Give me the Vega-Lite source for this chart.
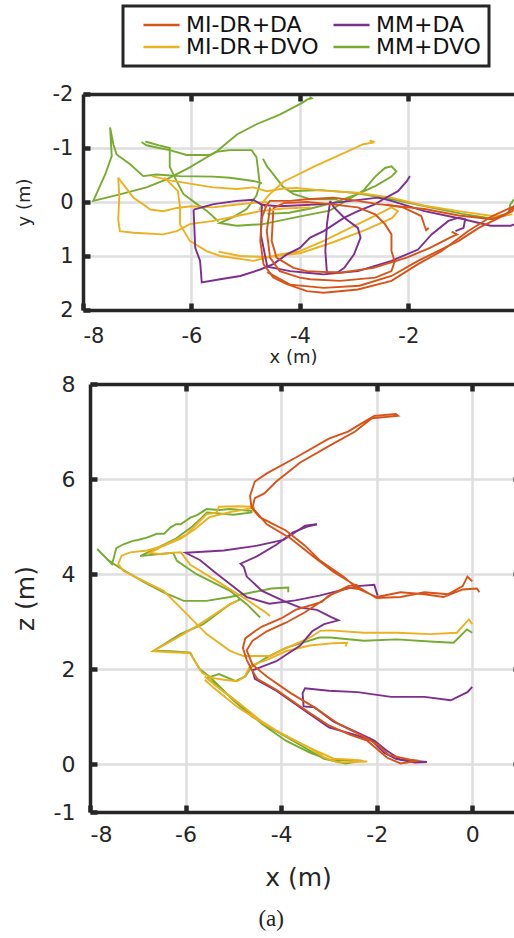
{
  "$schema": "https://vega.github.io/schema/vega-lite/v6.json",
  "padding": {"left": 13, "top": 4, "right": 0, "bottom": 3},
  "config": {
    "font": "DejaVu Sans",
    "view": {"stroke": null},
    "axis": {
      "grid": true, "gridColor": "#dedede", "gridWidth": 2.5,
      "domain": true, "domainColor": "#262626", "domainWidth": 3.5,
      "ticks": true, "tickColor": "#262626", "tickWidth": 4.5, "tickSize": -7,
      "labelColor": "#262626", "titleColor": "#262626",
      "labelFont": "DejaVu Sans", "titleFont": "DejaVu Sans", "titleFontWeight": "normal",
      "labelExpr": "'' + datum.value"
    },
    "legend": {
      "orient": "none", "legendX": 40, "legendY": -88, "columns": 2,
      "symbolType": "stroke", "symbolStrokeWidth": 2.5, "symbolSize": 1300,
      "labelFontSize": 22, "labelColor": "#111111", "labelFont": "DejaVu Sans",
      "strokeColor": "#262626", "strokeWidth": 3, "padding": 8,
      "columnPadding": 2, "rowPadding": 0, "clipHeight": 22, "labelOffset": 5,
      "symbolOffset": 11, "labelLimit": 300, "fillColor": "white"
    }
  },
  "title": {"text": "(a)", "orient": "bottom", "anchor": "middle", "font": "Liberation Serif", "fontSize": 23, "fontWeight": "normal", "color": "#222222", "offset": 18},
  "bounds": "flush",
  "center": true,
  "spacing": 74,
  "resolve": {"scale": {"x": "independent", "y": "independent"}},
  "datasets": {
    "xy": [
      {"s":"MM+DVO","g":"GA","x":-3.82,"y":-1.95},{"s":"MM+DVO","g":"GA","x":-3.78,"y":-1.92},{"s":"MM+DVO","g":"GA","x":-3.86,"y":-1.9},{"s":"MM+DVO","g":"GA","x":-3.95,"y":-1.84},{"s":"MM+DVO","g":"GA","x":-4.37,"y":-1.62},{"s":"MM+DVO","g":"GA","x":-4.8,"y":-1.44},{"s":"MM+DVO","g":"GA","x":-5.16,"y":-1.25},{"s":"MM+DVO","g":"GA","x":-5.53,"y":-0.94},{"s":"MM+DVO","g":"GA","x":-6.03,"y":-0.64},{"s":"MM+DVO","g":"GA","x":-6.46,"y":-0.42},{"s":"MM+DVO","g":"GA","x":-6.83,"y":-0.27},{"s":"MM+DVO","g":"GA","x":-7.32,"y":-0.14},{"s":"MM+DVO","g":"GA","x":-7.81,"y":-0.02},{"s":"MM+DVO","g":"GA","x":-7.59,"y":-0.51},{"s":"MM+DVO","g":"GA","x":-7.47,"y":-0.85},{"s":"MM+DVO","g":"GA","x":-7.5,"y":-1.38},{"s":"MM+DVO","g":"GA","x":-7.44,"y":-1.07},{"s":"MM+DVO","g":"GA","x":-7.38,"y":-0.88},{"s":"MM+DVO","g":"GA","x":-7.13,"y":-0.7},{"s":"MM+DVO","g":"GA","x":-6.89,"y":-0.48},{"s":"MM+DVO","g":"GA","x":-6.64,"y":-0.51},{"s":"MM+DVO","g":"GA","x":-6.21,"y":-0.48},{"s":"MM+DVO","g":"GA","x":-5.6,"y":-0.47},{"s":"MM+DVO","g":"GA","x":-5.29,"y":-0.45},{"s":"MM+DVO","g":"GA","x":-4.86,"y":-0.39},{"s":"MM+DVO","g":"GA","x":-4.7,"y":-0.35},
      {"s":"MM+DVO","g":"GB","x":-6.92,"y":-1.11},{"s":"MM+DVO","g":"GB","x":-6.83,"y":-1.05},{"s":"MM+DVO","g":"GB","x":-6.6,"y":-1.0},{"s":"MM+DVO","g":"GB","x":-6.4,"y":-0.96},{"s":"MM+DVO","g":"GB","x":-6.09,"y":-0.87},{"s":"MM+DVO","g":"GB","x":-5.66,"y":-0.87},{"s":"MM+DVO","g":"GB","x":-5.54,"y":-0.93},{"s":"MM+DVO","g":"GB","x":-5.29,"y":-0.96},{"s":"MM+DVO","g":"GB","x":-4.89,"y":-0.96},{"s":"MM+DVO","g":"GB","x":-4.8,"y":-0.83},{"s":"MM+DVO","g":"GB","x":-4.77,"y":-0.59},{"s":"MM+DVO","g":"GB","x":-4.74,"y":-0.34},{"s":"MM+DVO","g":"GB","x":-4.8,"y":-0.12},{"s":"MM+DVO","g":"GB","x":-4.98,"y":0.13},{"s":"MM+DVO","g":"GB","x":-5.23,"y":0.28},{"s":"MM+DVO","g":"GB","x":-5.48,"y":0.39},{"s":"MM+DVO","g":"GB","x":-5.17,"y":0.44},{"s":"MM+DVO","g":"GB","x":-4.68,"y":0.41},{"s":"MM+DVO","g":"GB","x":-4.06,"y":0.28},{"s":"MM+DVO","g":"GB","x":-3.45,"y":0.16},{"s":"MM+DVO","g":"GB","x":-3.08,"y":-0.06},{"s":"MM+DVO","g":"GB","x":-2.83,"y":-0.21},{"s":"MM+DVO","g":"GB","x":-2.61,"y":-0.47},{"s":"MM+DVO","g":"GB","x":-2.43,"y":-0.63},{"s":"MM+DVO","g":"GB","x":-2.31,"y":-0.66},{"s":"MM+DVO","g":"GB","x":-2.22,"y":-0.57},{"s":"MM+DVO","g":"GB","x":-2.31,"y":-0.47},{"s":"MM+DVO","g":"GB","x":-2.6,"y":-0.3},{"s":"MM+DVO","g":"GB","x":-3.0,"y":-0.12},{"s":"MM+DVO","g":"GB","x":-3.4,"y":0.02},{"s":"MM+DVO","g":"GB","x":-3.8,"y":0.12},{"s":"MM+DVO","g":"GB","x":-4.2,"y":0.2},{"s":"MM+DVO","g":"GB","x":-4.6,"y":0.22},
      {"s":"MM+DVO","g":"GC","x":-6.85,"y":-1.12},{"s":"MM+DVO","g":"GC","x":-6.6,"y":-1.05},{"s":"MM+DVO","g":"GC","x":-6.4,"y":-1.0},{"s":"MM+DVO","g":"GC","x":-6.4,"y":-0.65},{"s":"MM+DVO","g":"GC","x":-6.28,"y":-0.4},{"s":"MM+DVO","g":"GC","x":-6.15,"y":-0.15},{"s":"MM+DVO","g":"GC","x":-5.91,"y":0.03},{"s":"MM+DVO","g":"GC","x":-5.72,"y":0.16},{"s":"MM+DVO","g":"GC","x":-5.5,"y":0.36},
      {"s":"MM+DVO","g":"GD","x":-4.68,"y":-0.8},{"s":"MM+DVO","g":"GD","x":-4.6,"y":-0.65},{"s":"MM+DVO","g":"GD","x":-4.55,"y":-0.59},{"s":"MM+DVO","g":"GD","x":-4.31,"y":-0.28},{"s":"MM+DVO","g":"GD","x":-4.12,"y":-0.15},{"s":"MM+DVO","g":"GD","x":-3.8,"y":-0.05},{"s":"MM+DVO","g":"GD","x":-3.3,"y":-0.05},
      {"s":"MM+DVO","g":"GE","x":-4.2,"y":-0.2},{"s":"MM+DVO","g":"GE","x":-3.6,"y":-0.22},{"s":"MM+DVO","g":"GE","x":-3.0,"y":-0.17},{"s":"MM+DVO","g":"GE","x":-2.3,"y":-0.05},{"s":"MM+DVO","g":"GE","x":-1.6,"y":0.1},{"s":"MM+DVO","g":"GE","x":-1.0,"y":0.22},{"s":"MM+DVO","g":"GE","x":-0.5,"y":0.3},{"s":"MM+DVO","g":"GE","x":-0.15,"y":0.24},{"s":"MM+DVO","g":"GE","x":-0.12,"y":0.05},{"s":"MM+DVO","g":"GE","x":-0.05,"y":-0.05},
      {"s":"MI-DR+DVO","g":"YA","x":-2.62,"y":-1.11},{"s":"MI-DR+DVO","g":"YA","x":-2.71,"y":-1.14},{"s":"MI-DR+DVO","g":"YA","x":-2.66,"y":-1.1},{"s":"MI-DR+DVO","g":"YA","x":-2.83,"y":-1.07},{"s":"MI-DR+DVO","g":"YA","x":-3.14,"y":-0.93},{"s":"MI-DR+DVO","g":"YA","x":-3.75,"y":-0.65},{"s":"MI-DR+DVO","g":"YA","x":-4.31,"y":-0.37},{"s":"MI-DR+DVO","g":"YA","x":-4.55,"y":-0.15},{"s":"MI-DR+DVO","g":"YA","x":-4.68,"y":0.0},{"s":"MI-DR+DVO","g":"YA","x":-4.75,"y":0.15},
      {"s":"MI-DR+DVO","g":"YB","x":-7.35,"y":-0.45},{"s":"MI-DR+DVO","g":"YB","x":-7.26,"y":-0.33},{"s":"MI-DR+DVO","g":"YB","x":-7.07,"y":-0.08},{"s":"MI-DR+DVO","g":"YB","x":-6.89,"y":0.04},{"s":"MI-DR+DVO","g":"YB","x":-6.76,"y":0.14},{"s":"MI-DR+DVO","g":"YB","x":-6.52,"y":0.17},{"s":"MI-DR+DVO","g":"YB","x":-6.27,"y":0.11},{"s":"MI-DR+DVO","g":"YB","x":-6.0,"y":0.08},{"s":"MI-DR+DVO","g":"YB","x":-5.6,"y":0.1},{"s":"MI-DR+DVO","g":"YB","x":-5.2,"y":0.05},{"s":"MI-DR+DVO","g":"YB","x":-4.9,"y":0.02},{"s":"MI-DR+DVO","g":"YB","x":-4.6,"y":0.0},
      {"s":"MI-DR+DVO","g":"YC","x":-7.35,"y":-0.45},{"s":"MI-DR+DVO","g":"YC","x":-7.33,"y":-0.1},{"s":"MI-DR+DVO","g":"YC","x":-7.35,"y":0.32},{"s":"MI-DR+DVO","g":"YC","x":-7.32,"y":0.54},{"s":"MI-DR+DVO","g":"YC","x":-7.07,"y":0.57},{"s":"MI-DR+DVO","g":"YC","x":-6.52,"y":0.6},{"s":"MI-DR+DVO","g":"YC","x":-6.27,"y":0.54},{"s":"MI-DR+DVO","g":"YC","x":-6.03,"y":0.41},{"s":"MI-DR+DVO","g":"YC","x":-5.6,"y":0.35},{"s":"MI-DR+DVO","g":"YC","x":-5.16,"y":0.26},{"s":"MI-DR+DVO","g":"YC","x":-4.73,"y":0.17},{"s":"MI-DR+DVO","g":"YC","x":-4.3,"y":0.12},{"s":"MI-DR+DVO","g":"YC","x":-3.8,"y":0.1},
      {"s":"MI-DR+DVO","g":"YD","x":-6.73,"y":-0.48},{"s":"MI-DR+DVO","g":"YD","x":-6.4,"y":-0.4},{"s":"MI-DR+DVO","g":"YD","x":-6.03,"y":-0.34},{"s":"MI-DR+DVO","g":"YD","x":-5.6,"y":-0.27},{"s":"MI-DR+DVO","g":"YD","x":-5.16,"y":-0.24},{"s":"MI-DR+DVO","g":"YD","x":-4.86,"y":-0.27},{"s":"MI-DR+DVO","g":"YD","x":-4.61,"y":-0.2},{"s":"MI-DR+DVO","g":"YD","x":-4.3,"y":-0.25},{"s":"MI-DR+DVO","g":"YD","x":-4.06,"y":-0.26},{"s":"MI-DR+DVO","g":"YD","x":-3.56,"y":-0.21},{"s":"MI-DR+DVO","g":"YD","x":-2.93,"y":-0.17},{"s":"MI-DR+DVO","g":"YD","x":-2.31,"y":-0.08},{"s":"MI-DR+DVO","g":"YD","x":-1.7,"y":0.07},{"s":"MI-DR+DVO","g":"YD","x":-1.07,"y":0.17},{"s":"MI-DR+DVO","g":"YD","x":-0.45,"y":0.26},{"s":"MI-DR+DVO","g":"YD","x":-0.08,"y":0.23},
      {"s":"MI-DR+DVO","g":"YE","x":-6.5,"y":-0.45},{"s":"MI-DR+DVO","g":"YE","x":-6.25,"y":-0.2},{"s":"MI-DR+DVO","g":"YE","x":-6.21,"y":0.1},{"s":"MI-DR+DVO","g":"YE","x":-6.21,"y":0.41},{"s":"MI-DR+DVO","g":"YE","x":-6.03,"y":0.72},{"s":"MI-DR+DVO","g":"YE","x":-5.72,"y":0.91},{"s":"MI-DR+DVO","g":"YE","x":-5.47,"y":1.0},{"s":"MI-DR+DVO","g":"YE","x":-4.86,"y":1.09},{"s":"MI-DR+DVO","g":"YE","x":-4.37,"y":0.97},{"s":"MI-DR+DVO","g":"YE","x":-4.0,"y":0.91},{"s":"MI-DR+DVO","g":"YE","x":-3.56,"y":0.72},{"s":"MI-DR+DVO","g":"YE","x":-2.93,"y":0.41},{"s":"MI-DR+DVO","g":"YE","x":-2.56,"y":0.23},{"s":"MI-DR+DVO","g":"YE","x":-2.31,"y":0.1},{"s":"MI-DR+DVO","g":"YE","x":-2.19,"y":0.17},{"s":"MI-DR+DVO","g":"YE","x":-2.3,"y":0.3},{"s":"MI-DR+DVO","g":"YE","x":-2.8,"y":0.52},{"s":"MI-DR+DVO","g":"YE","x":-3.4,"y":0.75},{"s":"MI-DR+DVO","g":"YE","x":-4.0,"y":0.95},{"s":"MI-DR+DVO","g":"YE","x":-4.6,"y":1.02},{"s":"MI-DR+DVO","g":"YE","x":-5.1,"y":1.0},{"s":"MI-DR+DVO","g":"YE","x":-5.5,"y":0.92},
      {"s":"MM+DA","g":"PA","x":-5.96,"y":0.14},{"s":"MM+DA","g":"PA","x":-5.93,"y":0.85},{"s":"MM+DA","g":"PA","x":-5.84,"y":1.09},{"s":"MM+DA","g":"PA","x":-5.81,"y":1.49},{"s":"MM+DA","g":"PA","x":-5.47,"y":1.43},{"s":"MM+DA","g":"PA","x":-5.1,"y":1.37},{"s":"MM+DA","g":"PA","x":-4.73,"y":1.25},{"s":"MM+DA","g":"PA","x":-4.49,"y":1.15},{"s":"MM+DA","g":"PA","x":-4.24,"y":0.97},{"s":"MM+DA","g":"PA","x":-4.0,"y":0.85},{"s":"MM+DA","g":"PA","x":-3.81,"y":0.66},{"s":"MM+DA","g":"PA","x":-3.56,"y":0.54},{"s":"MM+DA","g":"PA","x":-3.18,"y":0.29},{"s":"MM+DA","g":"PA","x":-2.93,"y":0.17},{"s":"MM+DA","g":"PA","x":-2.61,"y":0.04},{"s":"MM+DA","g":"PA","x":-2.43,"y":-0.07},{"s":"MM+DA","g":"PA","x":-2.19,"y":-0.2},{"s":"MM+DA","g":"PA","x":-2.03,"y":-0.38},{"s":"MM+DA","g":"PA","x":-1.97,"y":-0.48},
      {"s":"MM+DA","g":"PB","x":-5.96,"y":0.14},{"s":"MM+DA","g":"PB","x":-5.59,"y":0.04},{"s":"MM+DA","g":"PB","x":-5.16,"y":-0.02},{"s":"MM+DA","g":"PB","x":-4.86,"y":-0.04},{"s":"MM+DA","g":"PB","x":-4.7,"y":0.05},{"s":"MM+DA","g":"PB","x":-4.4,"y":0.08},{"s":"MM+DA","g":"PB","x":-4.18,"y":0.07},{"s":"MM+DA","g":"PB","x":-3.56,"y":0.04},{"s":"MM+DA","g":"PB","x":-3.06,"y":-0.02},{"s":"MM+DA","g":"PB","x":-2.56,"y":-0.08},{"s":"MM+DA","g":"PB","x":-2.31,"y":-0.02},{"s":"MM+DA","g":"PB","x":-1.7,"y":0.17},{"s":"MM+DA","g":"PB","x":-1.07,"y":0.3},{"s":"MM+DA","g":"PB","x":-0.73,"y":0.38},{"s":"MM+DA","g":"PB","x":-0.48,"y":0.44},{"s":"MM+DA","g":"PB","x":-0.11,"y":0.44},{"s":"MM+DA","g":"PB","x":0.0,"y":0.4},
      {"s":"MM+DA","g":"PC","x":-3.44,"y":-0.02},{"s":"MM+DA","g":"PC","x":-3.5,"y":0.41},{"s":"MM+DA","g":"PC","x":-3.53,"y":0.91},{"s":"MM+DA","g":"PC","x":-3.5,"y":1.31},{"s":"MM+DA","g":"PC","x":-3.3,"y":1.3},{"s":"MM+DA","g":"PC","x":-3.18,"y":1.22},{"s":"MM+DA","g":"PC","x":-3.0,"y":0.97},{"s":"MM+DA","g":"PC","x":-2.88,"y":0.66},{"s":"MM+DA","g":"PC","x":-2.93,"y":0.48},{"s":"MM+DA","g":"PC","x":-3.18,"y":0.29},{"s":"MM+DA","g":"PC","x":-3.37,"y":0.1},{"s":"MM+DA","g":"PC","x":-3.44,"y":-0.02},
      {"s":"MM+DA","g":"PD","x":-4.7,"y":0.05},{"s":"MM+DA","g":"PD","x":-4.72,"y":0.6},{"s":"MM+DA","g":"PD","x":-4.6,"y":1.2},{"s":"MM+DA","g":"PD","x":-4.18,"y":1.28},{"s":"MM+DA","g":"PD","x":-3.87,"y":1.31},{"s":"MM+DA","g":"PD","x":-3.56,"y":1.34},{"s":"MM+DA","g":"PD","x":-2.93,"y":1.28},{"s":"MM+DA","g":"PD","x":-2.31,"y":1.09},{"s":"MM+DA","g":"PD","x":-1.82,"y":0.88},{"s":"MM+DA","g":"PD","x":-1.57,"y":0.6},{"s":"MM+DA","g":"PD","x":-1.26,"y":0.35},{"s":"MM+DA","g":"PD","x":-1.07,"y":0.29},{"s":"MM+DA","g":"PD","x":-0.95,"y":0.32},{"s":"MM+DA","g":"PD","x":-0.98,"y":0.48},{"s":"MM+DA","g":"PD","x":-1.13,"y":0.54},
      {"s":"MI-DR+DA","g":"RA","x":-4.61,"y":0.05},{"s":"MI-DR+DA","g":"RA","x":-4.7,"y":0.29},{"s":"MI-DR+DA","g":"RA","x":-4.73,"y":0.72},{"s":"MI-DR+DA","g":"RA","x":-4.67,"y":1.15},{"s":"MI-DR+DA","g":"RA","x":-4.49,"y":1.4},{"s":"MI-DR+DA","g":"RA","x":-4.24,"y":1.52},{"s":"MI-DR+DA","g":"RA","x":-3.87,"y":1.65},{"s":"MI-DR+DA","g":"RA","x":-3.56,"y":1.68},{"s":"MI-DR+DA","g":"RA","x":-2.93,"y":1.62},{"s":"MI-DR+DA","g":"RA","x":-2.31,"y":1.46},{"s":"MI-DR+DA","g":"RA","x":-1.82,"y":1.15},{"s":"MI-DR+DA","g":"RA","x":-1.39,"y":0.91},{"s":"MI-DR+DA","g":"RA","x":-0.9,"y":0.54},{"s":"MI-DR+DA","g":"RA","x":-0.45,"y":0.26},{"s":"MI-DR+DA","g":"RA","x":-0.03,"y":0.07},
      {"s":"MI-DR+DA","g":"RB","x":-0.03,"y":0.07},{"s":"MI-DR+DA","g":"RB","x":-0.08,"y":0.17},{"s":"MI-DR+DA","g":"RB","x":-0.45,"y":0.32},{"s":"MI-DR+DA","g":"RB","x":-1.07,"y":0.25},{"s":"MI-DR+DA","g":"RB","x":-1.7,"y":0.13},{"s":"MI-DR+DA","g":"RB","x":-2.56,"y":0.04},{"s":"MI-DR+DA","g":"RB","x":-2.93,"y":-0.02},{"s":"MI-DR+DA","g":"RB","x":-3.38,"y":-0.08},{"s":"MI-DR+DA","g":"RB","x":-3.87,"y":-0.05},{"s":"MI-DR+DA","g":"RB","x":-4.18,"y":-0.02},{"s":"MI-DR+DA","g":"RB","x":-4.55,"y":-0.02},{"s":"MI-DR+DA","g":"RB","x":-4.65,"y":0.1},
      {"s":"MI-DR+DA","g":"RC","x":-4.55,"y":0.1},{"s":"MI-DR+DA","g":"RC","x":-4.61,"y":0.54},{"s":"MI-DR+DA","g":"RC","x":-4.55,"y":1.03},{"s":"MI-DR+DA","g":"RC","x":-4.37,"y":1.28},{"s":"MI-DR+DA","g":"RC","x":-4.0,"y":1.4},{"s":"MI-DR+DA","g":"RC","x":-3.81,"y":1.43},{"s":"MI-DR+DA","g":"RC","x":-3.26,"y":1.46},{"s":"MI-DR+DA","g":"RC","x":-2.61,"y":1.4},{"s":"MI-DR+DA","g":"RC","x":-2.31,"y":1.28},{"s":"MI-DR+DA","g":"RC","x":-2.25,"y":1.1},{"s":"MI-DR+DA","g":"RC","x":-2.31,"y":0.91},{"s":"MI-DR+DA","g":"RC","x":-2.31,"y":0.6},{"s":"MI-DR+DA","g":"RC","x":-2.43,"y":0.41},{"s":"MI-DR+DA","g":"RC","x":-2.61,"y":0.23},{"s":"MI-DR+DA","g":"RC","x":-2.93,"y":0.1},{"s":"MI-DR+DA","g":"RC","x":-3.44,"y":0.04},{"s":"MI-DR+DA","g":"RC","x":-3.87,"y":0.0},{"s":"MI-DR+DA","g":"RC","x":-4.3,"y":0.02},{"s":"MI-DR+DA","g":"RC","x":-4.5,"y":0.12},
      {"s":"MI-DR+DA","g":"RD","x":-4.49,"y":0.16},{"s":"MI-DR+DA","g":"RD","x":-4.52,"y":0.72},{"s":"MI-DR+DA","g":"RD","x":-4.43,"y":1.03},{"s":"MI-DR+DA","g":"RD","x":-4.12,"y":1.22},{"s":"MI-DR+DA","g":"RD","x":-3.87,"y":1.28},{"s":"MI-DR+DA","g":"RD","x":-3.26,"y":1.31},{"s":"MI-DR+DA","g":"RD","x":-2.64,"y":1.22},{"s":"MI-DR+DA","g":"RD","x":-2.03,"y":1.03},{"s":"MI-DR+DA","g":"RD","x":-1.6,"y":0.85},{"s":"MI-DR+DA","g":"RD","x":-1.23,"y":0.66},{"s":"MI-DR+DA","g":"RD","x":-1.1,"y":0.6},{"s":"MI-DR+DA","g":"RD","x":-1.2,"y":0.55},
      {"s":"MI-DR+DA","g":"RE","x":-2.4,"y":0.05},{"s":"MI-DR+DA","g":"RE","x":-2.1,"y":0.1},{"s":"MI-DR+DA","g":"RE","x":-1.88,"y":0.2},{"s":"MI-DR+DA","g":"RE","x":-1.76,"y":0.26},{"s":"MI-DR+DA","g":"RE","x":-1.7,"y":0.44},{"s":"MI-DR+DA","g":"RE","x":-1.67,"y":0.52},{"s":"MI-DR+DA","g":"RE","x":-1.62,"y":0.48},
      {"s":"MI-DR+DA","g":"RF","x":-4.6,"y":1.3},{"s":"MI-DR+DA","g":"RF","x":-4.18,"y":1.53},{"s":"MI-DR+DA","g":"RF","x":-3.56,"y":1.59},{"s":"MI-DR+DA","g":"RF","x":-2.9,"y":1.55},{"s":"MI-DR+DA","g":"RF","x":-2.31,"y":1.37},{"s":"MI-DR+DA","g":"RF","x":-1.82,"y":1.09},{"s":"MI-DR+DA","g":"RF","x":-1.07,"y":0.72},{"s":"MI-DR+DA","g":"RF","x":-0.7,"y":0.48},{"s":"MI-DR+DA","g":"RF","x":-0.2,"y":0.23},{"s":"MI-DR+DA","g":"RF","x":-0.03,"y":0.07}
    ],
    "xz": [
      {"s":"MM+DVO","g":"GZa","x":-4.6,"z":5.33},{"s":"MM+DVO","g":"GZa","x":-5.07,"z":5.37},{"s":"MM+DVO","g":"GZa","x":-5.3,"z":5.35},{"s":"MM+DVO","g":"GZa","x":-5.56,"z":5.37},{"s":"MM+DVO","g":"GZa","x":-5.75,"z":5.25},{"s":"MM+DVO","g":"GZa","x":-5.9,"z":5.19},{"s":"MM+DVO","g":"GZa","x":-6.1,"z":5.05},{"s":"MM+DVO","g":"GZa","x":-6.2,"z":5.05},{"s":"MM+DVO","g":"GZa","x":-6.32,"z":4.98},{"s":"MM+DVO","g":"GZa","x":-6.45,"z":4.85},{"s":"MM+DVO","g":"GZa","x":-6.6,"z":4.85},{"s":"MM+DVO","g":"GZa","x":-6.81,"z":4.77},{"s":"MM+DVO","g":"GZa","x":-7.0,"z":4.72},{"s":"MM+DVO","g":"GZa","x":-7.1,"z":4.7},{"s":"MM+DVO","g":"GZa","x":-7.3,"z":4.63},{"s":"MM+DVO","g":"GZa","x":-7.45,"z":4.55},{"s":"MM+DVO","g":"GZa","x":-7.5,"z":4.35},{"s":"MM+DVO","g":"GZa","x":-7.54,"z":4.21},{"s":"MM+DVO","g":"GZa","x":-7.85,"z":4.53},{"s":"MM+DVO","g":"GZa","x":-7.6,"z":4.28},{"s":"MM+DVO","g":"GZa","x":-7.37,"z":4.13},{"s":"MM+DVO","g":"GZa","x":-6.9,"z":3.85},{"s":"MM+DVO","g":"GZa","x":-6.46,"z":3.62},{"s":"MM+DVO","g":"GZa","x":-6.04,"z":3.44},{"s":"MM+DVO","g":"GZa","x":-5.56,"z":3.44},{"s":"MM+DVO","g":"GZa","x":-5.07,"z":3.52},{"s":"MM+DVO","g":"GZa","x":-4.6,"z":3.62},{"s":"MM+DVO","g":"GZa","x":-4.2,"z":3.7},{"s":"MM+DVO","g":"GZa","x":-3.85,"z":3.72},{"s":"MM+DVO","g":"GZa","x":-3.85,"z":3.62},
      {"s":"MM+DVO","g":"GZb","x":-4.6,"z":5.3},{"s":"MM+DVO","g":"GZb","x":-5.0,"z":5.25},{"s":"MM+DVO","g":"GZb","x":-5.3,"z":5.28},{"s":"MM+DVO","g":"GZb","x":-5.55,"z":5.3},{"s":"MM+DVO","g":"GZb","x":-5.7,"z":5.15},{"s":"MM+DVO","g":"GZb","x":-5.9,"z":4.97},{"s":"MM+DVO","g":"GZb","x":-6.2,"z":4.75},{"s":"MM+DVO","g":"GZb","x":-6.6,"z":4.55},{"s":"MM+DVO","g":"GZb","x":-6.95,"z":4.38},{"s":"MM+DVO","g":"GZb","x":-6.6,"z":4.42},{"s":"MM+DVO","g":"GZb","x":-6.26,"z":4.45},{"s":"MM+DVO","g":"GZb","x":-6.18,"z":4.28},{"s":"MM+DVO","g":"GZb","x":-5.77,"z":4.0},{"s":"MM+DVO","g":"GZb","x":-5.07,"z":3.65},{"s":"MM+DVO","g":"GZb","x":-4.72,"z":3.37},{"s":"MM+DVO","g":"GZb","x":-4.44,"z":3.09},
      {"s":"MM+DVO","g":"GZc","x":-4.86,"z":3.47},{"s":"MM+DVO","g":"GZc","x":-5.07,"z":3.37},{"s":"MM+DVO","g":"GZc","x":-5.63,"z":2.95},{"s":"MM+DVO","g":"GZc","x":-6.11,"z":2.74},{"s":"MM+DVO","g":"GZc","x":-6.67,"z":2.39},{"s":"MM+DVO","g":"GZc","x":-6.3,"z":2.38},{"s":"MM+DVO","g":"GZc","x":-5.9,"z":2.35},{"s":"MM+DVO","g":"GZc","x":-5.85,"z":2.25},{"s":"MM+DVO","g":"GZc","x":-5.7,"z":2.0},{"s":"MM+DVO","g":"GZc","x":-5.5,"z":1.85},{"s":"MM+DVO","g":"GZc","x":-5.3,"z":1.65},{"s":"MM+DVO","g":"GZc","x":-5.0,"z":1.35},{"s":"MM+DVO","g":"GZc","x":-4.6,"z":1.0},{"s":"MM+DVO","g":"GZc","x":-4.1,"z":0.7},{"s":"MM+DVO","g":"GZc","x":-3.5,"z":0.35},{"s":"MM+DVO","g":"GZc","x":-3.1,"z":0.12},{"s":"MM+DVO","g":"GZc","x":-2.65,"z":0.02},{"s":"MM+DVO","g":"GZc","x":-2.3,"z":0.08},{"s":"MM+DVO","g":"GZc","x":-2.6,"z":0.09},{"s":"MM+DVO","g":"GZc","x":-3.0,"z":0.1},{"s":"MM+DVO","g":"GZc","x":-3.4,"z":0.25},{"s":"MM+DVO","g":"GZc","x":-3.9,"z":0.5},{"s":"MM+DVO","g":"GZc","x":-4.4,"z":0.85},{"s":"MM+DVO","g":"GZc","x":-4.9,"z":1.3},{"s":"MM+DVO","g":"GZc","x":-5.3,"z":1.62},{"s":"MM+DVO","g":"GZc","x":-5.55,"z":1.82},{"s":"MM+DVO","g":"GZc","x":-5.3,"z":1.9},{"s":"MM+DVO","g":"GZc","x":-4.95,"z":1.75},{"s":"MM+DVO","g":"GZc","x":-4.75,"z":1.85},{"s":"MM+DVO","g":"GZc","x":-4.62,"z":2.05},{"s":"MM+DVO","g":"GZc","x":-4.3,"z":2.25},{"s":"MM+DVO","g":"GZc","x":-3.9,"z":2.45},{"s":"MM+DVO","g":"GZc","x":-3.2,"z":2.67},{"s":"MM+DVO","g":"GZc","x":-2.97,"z":2.67},{"s":"MM+DVO","g":"GZc","x":-2.27,"z":2.6},{"s":"MM+DVO","g":"GZc","x":-1.58,"z":2.63},{"s":"MM+DVO","g":"GZc","x":-0.8,"z":2.58},{"s":"MM+DVO","g":"GZc","x":-0.39,"z":2.56},{"s":"MM+DVO","g":"GZc","x":-0.11,"z":2.84},{"s":"MM+DVO","g":"GZc","x":0.0,"z":2.77},
      {"s":"MI-DR+DVO","g":"YZa","x":-4.6,"z":5.42},{"s":"MI-DR+DVO","g":"YZa","x":-4.9,"z":5.43},{"s":"MI-DR+DVO","g":"YZa","x":-5.3,"z":5.42},{"s":"MI-DR+DVO","g":"YZa","x":-5.35,"z":5.3},{"s":"MI-DR+DVO","g":"YZa","x":-5.56,"z":5.26},{"s":"MI-DR+DVO","g":"YZa","x":-5.77,"z":5.05},{"s":"MI-DR+DVO","g":"YZa","x":-5.97,"z":4.84},{"s":"MI-DR+DVO","g":"YZa","x":-6.46,"z":4.6},{"s":"MI-DR+DVO","g":"YZa","x":-6.8,"z":4.5},{"s":"MI-DR+DVO","g":"YZa","x":-7.16,"z":4.46},{"s":"MI-DR+DVO","g":"YZa","x":-7.34,"z":4.39},{"s":"MI-DR+DVO","g":"YZa","x":-7.41,"z":4.21},{"s":"MI-DR+DVO","g":"YZa","x":-7.3,"z":4.07},{"s":"MI-DR+DVO","g":"YZa","x":-7.02,"z":3.93},{"s":"MI-DR+DVO","g":"YZa","x":-6.46,"z":3.65},{"s":"MI-DR+DVO","g":"YZa","x":-6.04,"z":3.23},{"s":"MI-DR+DVO","g":"YZa","x":-5.56,"z":2.74},{"s":"MI-DR+DVO","g":"YZa","x":-5.07,"z":2.39},{"s":"MI-DR+DVO","g":"YZa","x":-4.79,"z":2.28},{"s":"MI-DR+DVO","g":"YZa","x":-4.23,"z":2.28},{"s":"MI-DR+DVO","g":"YZa","x":-3.95,"z":2.42},{"s":"MI-DR+DVO","g":"YZa","x":-3.39,"z":2.67},{"s":"MI-DR+DVO","g":"YZa","x":-3.18,"z":2.81},{"s":"MI-DR+DVO","g":"YZa","x":-2.97,"z":2.82},{"s":"MI-DR+DVO","g":"YZa","x":-2.27,"z":2.77},{"s":"MI-DR+DVO","g":"YZa","x":-1.58,"z":2.77},{"s":"MI-DR+DVO","g":"YZa","x":-0.88,"z":2.74},{"s":"MI-DR+DVO","g":"YZa","x":-0.32,"z":2.77},{"s":"MI-DR+DVO","g":"YZa","x":-0.07,"z":3.05},{"s":"MI-DR+DVO","g":"YZa","x":0.0,"z":2.95},
      {"s":"MI-DR+DVO","g":"YZb","x":-4.55,"z":5.4},{"s":"MI-DR+DVO","g":"YZb","x":-5.0,"z":5.32},{"s":"MI-DR+DVO","g":"YZb","x":-5.3,"z":5.25},{"s":"MI-DR+DVO","g":"YZb","x":-5.5,"z":5.2},{"s":"MI-DR+DVO","g":"YZb","x":-5.8,"z":4.95},{"s":"MI-DR+DVO","g":"YZb","x":-6.1,"z":4.75},{"s":"MI-DR+DVO","g":"YZb","x":-6.5,"z":4.58},{"s":"MI-DR+DVO","g":"YZb","x":-6.75,"z":4.45},{"s":"MI-DR+DVO","g":"YZb","x":-6.5,"z":4.42},{"s":"MI-DR+DVO","g":"YZb","x":-6.3,"z":4.45},{"s":"MI-DR+DVO","g":"YZb","x":-6.1,"z":4.46},{"s":"MI-DR+DVO","g":"YZb","x":-5.9,"z":4.2},{"s":"MI-DR+DVO","g":"YZb","x":-5.35,"z":3.86},{"s":"MI-DR+DVO","g":"YZb","x":-4.79,"z":3.51},{"s":"MI-DR+DVO","g":"YZb","x":-4.37,"z":3.23},{"s":"MI-DR+DVO","g":"YZb","x":-4.23,"z":3.12},
      {"s":"MI-DR+DVO","g":"YZc","x":-4.9,"z":3.45},{"s":"MI-DR+DVO","g":"YZc","x":-5.1,"z":3.35},{"s":"MI-DR+DVO","g":"YZc","x":-5.7,"z":2.95},{"s":"MI-DR+DVO","g":"YZc","x":-6.2,"z":2.65},{"s":"MI-DR+DVO","g":"YZc","x":-6.68,"z":2.38},{"s":"MI-DR+DVO","g":"YZc","x":-6.3,"z":2.36},{"s":"MI-DR+DVO","g":"YZc","x":-5.91,"z":2.34},{"s":"MI-DR+DVO","g":"YZc","x":-5.85,"z":2.25},{"s":"MI-DR+DVO","g":"YZc","x":-5.65,"z":1.92},{"s":"MI-DR+DVO","g":"YZc","x":-5.45,"z":1.82},{"s":"MI-DR+DVO","g":"YZc","x":-5.2,"z":1.78},{"s":"MI-DR+DVO","g":"YZc","x":-4.92,"z":1.75},{"s":"MI-DR+DVO","g":"YZc","x":-4.76,"z":1.85},{"s":"MI-DR+DVO","g":"YZc","x":-4.65,"z":2.07},{"s":"MI-DR+DVO","g":"YZc","x":-4.3,"z":2.2},{"s":"MI-DR+DVO","g":"YZc","x":-3.9,"z":2.38},{"s":"MI-DR+DVO","g":"YZc","x":-3.4,"z":2.5},{"s":"MI-DR+DVO","g":"YZc","x":-2.9,"z":2.55},{"s":"MI-DR+DVO","g":"YZc","x":-2.62,"z":2.56},{"s":"MI-DR+DVO","g":"YZc","x":-2.65,"z":2.48},
      {"s":"MI-DR+DVO","g":"YZd","x":-5.6,"z":1.85},{"s":"MI-DR+DVO","g":"YZd","x":-5.3,"z":1.6},{"s":"MI-DR+DVO","g":"YZd","x":-4.86,"z":1.27},{"s":"MI-DR+DVO","g":"YZd","x":-4.4,"z":0.9},{"s":"MI-DR+DVO","g":"YZd","x":-4.08,"z":0.7},{"s":"MI-DR+DVO","g":"YZd","x":-3.39,"z":0.34},{"s":"MI-DR+DVO","g":"YZd","x":-3.1,"z":0.15},{"s":"MI-DR+DVO","g":"YZd","x":-2.8,"z":0.04},{"s":"MI-DR+DVO","g":"YZd","x":-2.55,"z":0.05},{"s":"MI-DR+DVO","g":"YZd","x":-2.2,"z":0.06},{"s":"MI-DR+DVO","g":"YZd","x":-2.5,"z":0.1},{"s":"MI-DR+DVO","g":"YZd","x":-2.9,"z":0.12},{"s":"MI-DR+DVO","g":"YZd","x":-3.3,"z":0.3},{"s":"MI-DR+DVO","g":"YZd","x":-3.8,"z":0.55},{"s":"MI-DR+DVO","g":"YZd","x":-4.3,"z":0.82},{"s":"MI-DR+DVO","g":"YZd","x":-4.9,"z":1.2},{"s":"MI-DR+DVO","g":"YZd","x":-5.4,"z":1.6},{"s":"MI-DR+DVO","g":"YZd","x":-5.6,"z":1.78},
      {"s":"MM+DA","g":"PZa","x":-3.25,"z":5.05},{"s":"MM+DA","g":"PZa","x":-3.5,"z":5.02},{"s":"MM+DA","g":"PZa","x":-3.6,"z":4.95},{"s":"MM+DA","g":"PZa","x":-3.95,"z":4.72},{"s":"MM+DA","g":"PZa","x":-4.5,"z":4.6},{"s":"MM+DA","g":"PZa","x":-5.2,"z":4.5},{"s":"MM+DA","g":"PZa","x":-6.0,"z":4.45},{"s":"MM+DA","g":"PZa","x":-5.7,"z":4.3},{"s":"MM+DA","g":"PZa","x":-5.4,"z":4.05},{"s":"MM+DA","g":"PZa","x":-5.05,"z":3.78},{"s":"MM+DA","g":"PZa","x":-4.72,"z":3.52},{"s":"MM+DA","g":"PZa","x":-4.25,"z":3.38},{"s":"MM+DA","g":"PZa","x":-3.7,"z":3.45},{"s":"MM+DA","g":"PZa","x":-3.2,"z":3.55},{"s":"MM+DA","g":"PZa","x":-2.8,"z":3.65},{"s":"MM+DA","g":"PZa","x":-2.4,"z":3.75},{"s":"MM+DA","g":"PZa","x":-2.05,"z":3.78},{"s":"MM+DA","g":"PZa","x":-1.98,"z":3.55},
      {"s":"MM+DA","g":"PZb","x":-3.25,"z":5.05},{"s":"MM+DA","g":"PZb","x":-3.45,"z":5.0},{"s":"MM+DA","g":"PZb","x":-3.75,"z":4.88},{"s":"MM+DA","g":"PZb","x":-4.1,"z":4.62},{"s":"MM+DA","g":"PZb","x":-4.5,"z":4.38},{"s":"MM+DA","g":"PZb","x":-4.85,"z":4.22},{"s":"MM+DA","g":"PZb","x":-4.78,"z":4.15},{"s":"MM+DA","g":"PZb","x":-4.72,"z":3.95},{"s":"MM+DA","g":"PZb","x":-4.4,"z":3.65},{"s":"MM+DA","g":"PZb","x":-3.95,"z":3.44},{"s":"MM+DA","g":"PZb","x":-3.6,"z":3.3},{"s":"MM+DA","g":"PZb","x":-3.25,"z":3.25},{"s":"MM+DA","g":"PZb","x":-2.95,"z":3.1},{"s":"MM+DA","g":"PZb","x":-2.8,"z":3.03},{"s":"MM+DA","g":"PZb","x":-3.1,"z":2.95},{"s":"MM+DA","g":"PZb","x":-3.35,"z":2.8},{"s":"MM+DA","g":"PZb","x":-3.6,"z":2.5},{"s":"MM+DA","g":"PZb","x":-4.1,"z":2.17},{"s":"MM+DA","g":"PZb","x":-4.6,"z":1.98},{"s":"MM+DA","g":"PZb","x":-4.55,"z":1.8},{"s":"MM+DA","g":"PZb","x":-4.1,"z":1.55},{"s":"MM+DA","g":"PZb","x":-3.6,"z":1.2},{"s":"MM+DA","g":"PZb","x":-3.0,"z":0.78},{"s":"MM+DA","g":"PZb","x":-2.45,"z":0.62},{"s":"MM+DA","g":"PZb","x":-2.1,"z":0.5},{"s":"MM+DA","g":"PZb","x":-1.85,"z":0.25},{"s":"MM+DA","g":"PZb","x":-1.6,"z":0.12},{"s":"MM+DA","g":"PZb","x":-1.2,"z":0.04},{"s":"MM+DA","g":"PZb","x":-0.95,"z":0.05},
      {"s":"MM+DA","g":"PZc","x":0.0,"z":1.63},{"s":"MM+DA","g":"PZc","x":-0.1,"z":1.52},{"s":"MM+DA","g":"PZc","x":-0.45,"z":1.35},{"s":"MM+DA","g":"PZc","x":-1.0,"z":1.42},{"s":"MM+DA","g":"PZc","x":-1.7,"z":1.42},{"s":"MM+DA","g":"PZc","x":-2.4,"z":1.52},{"s":"MM+DA","g":"PZc","x":-3.0,"z":1.55},{"s":"MM+DA","g":"PZc","x":-3.5,"z":1.6},{"s":"MM+DA","g":"PZc","x":-3.55,"z":1.5},{"s":"MM+DA","g":"PZc","x":-3.53,"z":1.22},{"s":"MM+DA","g":"PZc","x":-3.3,"z":1.2},{"s":"MM+DA","g":"PZc","x":-2.9,"z":0.9},{"s":"MM+DA","g":"PZc","x":-2.3,"z":0.62},{"s":"MM+DA","g":"PZc","x":-2.05,"z":0.5},{"s":"MM+DA","g":"PZc","x":-1.8,"z":0.3},{"s":"MM+DA","g":"PZc","x":-1.5,"z":0.1},{"s":"MM+DA","g":"PZc","x":-0.95,"z":0.05},
      {"s":"MI-DR+DA","g":"RZa","x":0.15,"z":3.62},{"s":"MI-DR+DA","g":"RZa","x":0.1,"z":3.7},{"s":"MI-DR+DA","g":"RZa","x":-0.2,"z":3.68},{"s":"MI-DR+DA","g":"RZa","x":-0.6,"z":3.52},{"s":"MI-DR+DA","g":"RZa","x":-1.0,"z":3.58},{"s":"MI-DR+DA","g":"RZa","x":-1.5,"z":3.62},{"s":"MI-DR+DA","g":"RZa","x":-2.0,"z":3.52},{"s":"MI-DR+DA","g":"RZa","x":-2.4,"z":3.7},{"s":"MI-DR+DA","g":"RZa","x":-2.7,"z":3.95},{"s":"MI-DR+DA","g":"RZa","x":-3.2,"z":4.3},{"s":"MI-DR+DA","g":"RZa","x":-3.5,"z":4.6},{"s":"MI-DR+DA","g":"RZa","x":-3.9,"z":4.92},{"s":"MI-DR+DA","g":"RZa","x":-4.45,"z":5.2},{"s":"MI-DR+DA","g":"RZa","x":-4.62,"z":5.4},{"s":"MI-DR+DA","g":"RZa","x":-4.65,"z":5.65},{"s":"MI-DR+DA","g":"RZa","x":-4.55,"z":5.95},{"s":"MI-DR+DA","g":"RZa","x":-4.3,"z":6.12},{"s":"MI-DR+DA","g":"RZa","x":-3.7,"z":6.45},{"s":"MI-DR+DA","g":"RZa","x":-3.0,"z":6.85},{"s":"MI-DR+DA","g":"RZa","x":-2.6,"z":7.0},{"s":"MI-DR+DA","g":"RZa","x":-2.35,"z":7.15},{"s":"MI-DR+DA","g":"RZa","x":-2.05,"z":7.33},{"s":"MI-DR+DA","g":"RZa","x":-1.6,"z":7.37},{"s":"MI-DR+DA","g":"RZa","x":-1.55,"z":7.33},{"s":"MI-DR+DA","g":"RZa","x":-2.1,"z":7.28},{"s":"MI-DR+DA","g":"RZa","x":-2.45,"z":7.0},{"s":"MI-DR+DA","g":"RZa","x":-2.9,"z":6.75},{"s":"MI-DR+DA","g":"RZa","x":-3.6,"z":6.35},{"s":"MI-DR+DA","g":"RZa","x":-4.1,"z":5.95},{"s":"MI-DR+DA","g":"RZa","x":-4.35,"z":5.7},{"s":"MI-DR+DA","g":"RZa","x":-4.55,"z":5.6},{"s":"MI-DR+DA","g":"RZa","x":-4.6,"z":5.4},{"s":"MI-DR+DA","g":"RZa","x":-4.3,"z":5.05},{"s":"MI-DR+DA","g":"RZa","x":-3.8,"z":4.75},{"s":"MI-DR+DA","g":"RZa","x":-3.3,"z":4.35},{"s":"MI-DR+DA","g":"RZa","x":-2.9,"z":4.05},{"s":"MI-DR+DA","g":"RZa","x":-2.5,"z":3.8},{"s":"MI-DR+DA","g":"RZa","x":-2.0,"z":3.5},{"s":"MI-DR+DA","g":"RZa","x":-1.5,"z":3.52},{"s":"MI-DR+DA","g":"RZa","x":-1.0,"z":3.62},{"s":"MI-DR+DA","g":"RZa","x":-0.5,"z":3.58},{"s":"MI-DR+DA","g":"RZa","x":-0.2,"z":3.75},{"s":"MI-DR+DA","g":"RZa","x":-0.1,"z":3.95},{"s":"MI-DR+DA","g":"RZa","x":0.0,"z":3.85},
      {"s":"MI-DR+DA","g":"RZb","x":-2.3,"z":3.68},{"s":"MI-DR+DA","g":"RZb","x":-2.6,"z":3.72},{"s":"MI-DR+DA","g":"RZb","x":-3.0,"z":3.55},{"s":"MI-DR+DA","g":"RZb","x":-3.15,"z":3.42},{"s":"MI-DR+DA","g":"RZb","x":-3.7,"z":3.25},{"s":"MI-DR+DA","g":"RZb","x":-4.0,"z":3.07},{"s":"MI-DR+DA","g":"RZb","x":-4.4,"z":2.9},{"s":"MI-DR+DA","g":"RZb","x":-4.55,"z":2.8},{"s":"MI-DR+DA","g":"RZb","x":-4.75,"z":2.65},{"s":"MI-DR+DA","g":"RZb","x":-4.8,"z":2.45},{"s":"MI-DR+DA","g":"RZb","x":-4.72,"z":2.2},{"s":"MI-DR+DA","g":"RZb","x":-4.62,"z":2.0},{"s":"MI-DR+DA","g":"RZb","x":-4.5,"z":1.8},{"s":"MI-DR+DA","g":"RZb","x":-4.1,"z":1.57},{"s":"MI-DR+DA","g":"RZb","x":-3.5,"z":1.15},{"s":"MI-DR+DA","g":"RZb","x":-3.0,"z":0.82},{"s":"MI-DR+DA","g":"RZb","x":-2.55,"z":0.62},{"s":"MI-DR+DA","g":"RZb","x":-2.2,"z":0.5},{"s":"MI-DR+DA","g":"RZb","x":-2.0,"z":0.33},{"s":"MI-DR+DA","g":"RZb","x":-1.78,"z":0.14},{"s":"MI-DR+DA","g":"RZb","x":-1.5,"z":0.02},{"s":"MI-DR+DA","g":"RZb","x":-1.12,"z":0.08},{"s":"MI-DR+DA","g":"RZb","x":-1.3,"z":0.1},{"s":"MI-DR+DA","g":"RZb","x":-1.75,"z":0.2},{"s":"MI-DR+DA","g":"RZb","x":-1.95,"z":0.4},{"s":"MI-DR+DA","g":"RZb","x":-2.3,"z":0.6},{"s":"MI-DR+DA","g":"RZb","x":-2.8,"z":0.85},{"s":"MI-DR+DA","g":"RZb","x":-3.3,"z":1.2},{"s":"MI-DR+DA","g":"RZb","x":-3.8,"z":1.5},{"s":"MI-DR+DA","g":"RZb","x":-4.3,"z":1.85},{"s":"MI-DR+DA","g":"RZb","x":-4.6,"z":2.1},{"s":"MI-DR+DA","g":"RZb","x":-4.72,"z":2.4},{"s":"MI-DR+DA","g":"RZb","x":-4.6,"z":2.6},{"s":"MI-DR+DA","g":"RZb","x":-4.3,"z":2.8},{"s":"MI-DR+DA","g":"RZb","x":-3.9,"z":2.98},{"s":"MI-DR+DA","g":"RZb","x":-3.5,"z":3.2},{"s":"MI-DR+DA","g":"RZb","x":-3.2,"z":3.4},{"s":"MI-DR+DA","g":"RZb","x":-2.9,"z":3.6},{"s":"MI-DR+DA","g":"RZb","x":-2.6,"z":3.75},{"s":"MI-DR+DA","g":"RZb","x":-2.4,"z":3.78}
    ]
  },
  "vconcat": [
    {
      "width": 444, "height": 216,
      "data": {"name": "xy"},
      "resolve": {"axis": {"x": "independent", "y": "independent"}},
      "layer": [
        {
          "mark": {"type": "line", "strokeWidth": 1.9, "clip": true},
          "encoding": {
            "x": {"field": "x", "type": "quantitative",
                  "scale": {"domain": [-8, 0.19], "nice": false, "zero": false},
                  "axis": {"values": [-8, -6, -4, -2], "title": "x (m)", "titleFontSize": 18, "labelFontSize": 21, "labelPadding": 22, "titlePadding": 2, "titleX": 210,
                           "gridOpacity": {"condition": {"test": "datum.value == -8", "value": 0}, "value": 1}}},
            "y": {"field": "y", "type": "quantitative",
                  "scale": {"domain": [-2, 2], "reverse": true, "nice": false, "zero": false},
                  "axis": {"values": [-2, -1, 0, 1, 2], "title": "y (m)", "titleFontSize": 18, "labelFontSize": 21, "labelPadding": 17, "titlePadding": 19,
                           "gridOpacity": {"condition": {"test": "abs(datum.value) == 2", "value": 0}, "value": 1}}},
            "color": {"field": "s", "type": "nominal", "title": null,
                      "scale": {"domain": ["MI-DR+DA", "MI-DR+DVO", "MM+DA", "MM+DVO"], "range": ["#D95319", "#EDB120", "#7E2F8E", "#77AC30"]}},
            "detail": {"field": "g"},
            "order": {"value": null}
          }
        },
        {
          "mark": {"type": "line", "opacity": 0},
          "encoding": {
            "x": {"field": "x", "type": "quantitative", "axis": {"orient": "top", "values": [-6, -4, -2, 0], "labels": false, "title": null, "grid": false}},
            "y": {"field": "y", "type": "quantitative", "axis": {"orient": "right", "values": [-1, 0, 1], "labels": false, "title": null, "grid": false}},
            "detail": {"field": "g"}
          }
        }
      ]
    },
    {
      "width": 430, "height": 428,
      "data": {"name": "xz"},
      "resolve": {"axis": {"x": "independent", "y": "independent"}},
      "layer": [
        {
          "mark": {"type": "line", "strokeWidth": 1.9, "clip": true},
          "encoding": {
            "x": {"field": "x", "type": "quantitative",
                  "scale": {"domain": [-8, 1], "nice": false, "zero": false},
                  "axis": {"values": [-8, -6, -4, -2, 0], "title": "x (m)", "titleFontSize": 25, "labelFontSize": 22, "labelPadding": 19, "titlePadding": 20, "titleX": 208,
                           "gridOpacity": {"condition": {"test": "datum.value == -8", "value": 0}, "value": 1}}},
            "y": {"field": "z", "type": "quantitative",
                  "scale": {"domain": [-1, 8], "nice": false, "zero": false},
                  "axis": {"values": [-1, 0, 2, 4, 6, 8], "title": "z (m)", "titleFontSize": 25, "labelFontSize": 22, "labelPadding": 22, "titlePadding": 15,
                           "gridOpacity": {"condition": {"test": "datum.value == -1 || datum.value == 8", "value": 0}, "value": 1}}},
            "color": {"field": "s", "type": "nominal", "title": null,
                      "scale": {"domain": ["MI-DR+DA", "MI-DR+DVO", "MM+DA", "MM+DVO"], "range": ["#D95319", "#EDB120", "#7E2F8E", "#77AC30"]}},
            "detail": {"field": "g"},
            "order": {"value": null}
          }
        },
        {
          "mark": {"type": "line", "opacity": 0},
          "encoding": {
            "x": {"field": "x", "type": "quantitative", "axis": {"orient": "top", "values": [-6, -4, -2, 0], "labels": false, "title": null, "grid": false}},
            "y": {"field": "z", "type": "quantitative", "axis": {"orient": "right", "values": [0, 2, 4, 6], "labels": false, "title": null, "grid": false}},
            "detail": {"field": "g"}
          }
        }
      ]
    }
  ]
}
